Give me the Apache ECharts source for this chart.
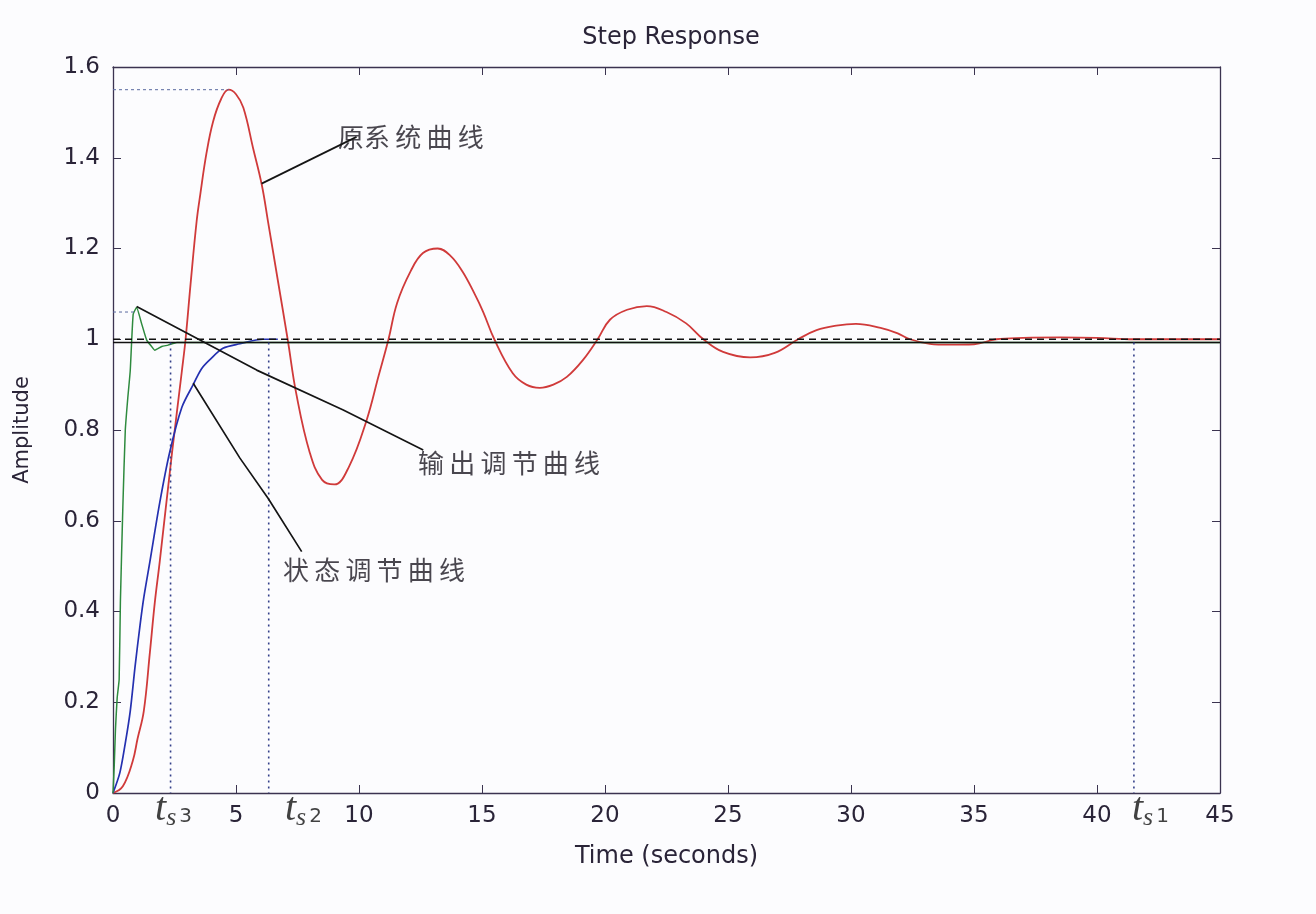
<!DOCTYPE html>
<html>
<head>
  <meta charset="utf-8">
  <script src="https://cdn.jsdelivr.net/npm/echarts@6/dist/echarts.min.js"></script>
  <style>
    html, body { height: 100%; margin: 0; background: #fcfcfe; }
    #main { width: 1316px; height: 914px; }
  </style>
</head>
<body>
  <div id="main"></div>
  <script>
    // 原系统曲线 (red)
    var origCurve = [
      [0, 0], [0.4, 0.015], [0.8, 0.07], [1.0, 0.12], [1.25, 0.18], [1.5, 0.31], [1.7, 0.42], [1.9, 0.51],
      [2.4, 0.75], [2.8, 0.93], [2.95, 1.0], [3.15, 1.12], [3.4, 1.26], [3.55, 1.32], [3.8, 1.41], [4.07, 1.48],
      [4.4, 1.53], [4.7, 1.55], [5.0, 1.54], [5.3, 1.51], [5.7, 1.42], [6.05, 1.34], [6.3, 1.26], [6.7, 1.13],
      [7.1, 1.0], [7.45, 0.88], [8.0, 0.75], [8.5, 0.69], [9.0, 0.68], [9.6, 0.72], [10.3, 0.82], [10.8, 0.92],
      [11.2, 1.0], [11.55, 1.08], [12.1, 1.15], [12.6, 1.19], [13.2, 1.2], [13.7, 1.185], [14.2, 1.15], [14.7, 1.1],
      [15.05, 1.06], [15.5, 1.0], [16.25, 0.925], [16.8, 0.9], [17.35, 0.893], [17.9, 0.9], [18.45, 0.917],
      [19.1, 0.954], [19.7, 1.0], [20.2, 1.043], [20.9, 1.065], [21.7, 1.073], [22.5, 1.06], [23.3, 1.035],
      [24.0, 1.0], [24.8, 0.972], [25.9, 0.96], [26.9, 0.97], [27.85, 1.0], [28.6, 1.02], [29.4, 1.03],
      [30.2, 1.034], [31.2, 1.025], [31.9, 1.013], [32.4, 1.0], [33.2, 0.99], [34.0, 0.988], [35.0, 0.989],
      [35.9, 1.0], [37, 1.003], [38.5, 1.004], [40, 1.003], [41.5, 1.0], [43, 1.0], [45, 1.0]
    ];
    // 状态调节曲线 (blue)
    var stateCurve = [
      [0, 0], [0.28, 0.045], [0.5, 0.11], [0.7, 0.18], [0.9, 0.28], [1.1, 0.37], [1.25, 0.43], [1.5, 0.51],
      [1.9, 0.64], [2.3, 0.75], [2.8, 0.85], [3.26, 0.9], [3.6, 0.935], [3.94, 0.955], [4.47, 0.98],
      [5.16, 0.99], [6.1, 1.0], [6.7, 1.0]
    ];
    // 输出调节曲线 (green)
    var outputCurve = [
      [0, 0], [0.05, 0.06], [0.1, 0.14], [0.17, 0.21], [0.25, 0.25], [0.3, 0.42], [0.4, 0.63], [0.5, 0.8],
      [0.6, 0.87], [0.7, 0.93], [0.82, 1.055], [0.96, 1.07], [1.16, 1.035], [1.37, 0.998], [1.57, 0.984],
      [1.7, 0.976], [1.98, 0.984], [2.24, 0.987], [2.6, 0.993], [45, 0.993]
    ];

    var steadyLevel = 1.0;      // dashed
    var bandLevel = 0.993;      // solid
    var settleTimes = [2.34, 6.33, 41.5];
    var settleNames = ['3', '2', '1'];
    var settleLabelAt = [1.71, 6.99, 41.42];
    var peakMarks = [[4.7, 1.55], [0.96, 1.06]];

    var leaderLines = [
      [[6.04, 1.343], [9.9, 1.446]],
      [[0.96, 1.072], [5.84, 0.932], [9.36, 0.844], [12.61, 0.756]],
      [[3.26, 0.903], [5.16, 0.738], [6.31, 0.649], [7.67, 0.532]]
    ];
    var curveLabels = [
      [9.15, 1.446, '原系\u2009统\u2009曲\u2009线'],
      [12.4, 0.727, '输\u2009出\u2009调\u2009节\u2009曲\u2009线'],
      [6.91, 0.491, '状\u2009态\u2009调\u2009节\u2009曲\u2009线']
    ];

    var axisColor = '#3b3350';
    var textColor = '#2a2438';
    var sans = 'DejaVu Sans';

    var series = [
      { type: 'line', data: origCurve, smooth: 0.4, symbol: 'none', lineStyle: { color: '#d03a3a', width: 1.8 } },
      { type: 'line', data: stateCurve, smooth: 0.3, symbol: 'none', lineStyle: { color: '#2430b0', width: 1.7 } },
      { type: 'line', data: outputCurve, smooth: 0.15, symbol: 'none', lineStyle: { color: '#2e8a3e', width: 1.5 } },
      { type: 'line', data: [[0, steadyLevel], [45, steadyLevel]], symbol: 'none', lineStyle: { color: '#111', width: 1.7, type: [7, 5] } },
      { type: 'line', data: [[0, bandLevel], [45, bandLevel]], symbol: 'none', lineStyle: { color: '#111', width: 1.6 } }
    ];
    settleTimes.forEach(function (t) {
      series.push({ type: 'line', data: [[t, bandLevel], [t, 0]], symbol: 'none',
        lineStyle: { color: '#34408a', width: 1.6, type: [2, 4] } });
    });
    peakMarks.forEach(function (p) {
      series.push({ type: 'line', data: [[0, p[1]], p], symbol: 'none',
        lineStyle: { color: '#5a6aa0', width: 1, type: [3, 3] } });
    });
    leaderLines.forEach(function (l) {
      series.push({ type: 'line', data: l, symbol: 'none', lineStyle: { color: '#151515', width: 1.7 } });
    });
    series.push({
      type: 'scatter', data: curveLabels, symbolSize: 0,
      label: { show: true, position: 'right', distance: 0, formatter: function (p) { return p.data[2]; },
        fontFamily: 'Noto Sans CJK SC', fontSize: 26, color: '#1c1822' }
    });
    series.push({
      type: 'scatter', symbolSize: 0,
      data: settleLabelAt.map(function (t, i) { return [t, 0, settleNames[i]]; }),
      label: {
        show: true, position: [0, -4], align: 'left', verticalAlign: 'top',
        formatter: function (p) { return '{t|t}{s|s}{n|' + p.data[2] + '}'; },
        rich: {
          t: { fontFamily: 'Liberation Serif', fontStyle: 'italic', fontSize: 40, color: '#111', verticalAlign: 'top' },
          s: { fontFamily: 'Liberation Serif', fontStyle: 'italic', fontSize: 26, color: '#111', padding: [16, 0, 0, 0] },
          n: { fontFamily: sans, fontSize: 20, color: '#111', padding: [14, 0, 0, 3] }
        }
      }
    });

    var chart = echarts.init(document.getElementById('main'));
    chart.setOption({
      backgroundColor: '#fcfcfe',
      animation: false,
      title: { text: 'Step Response', left: 666, textAlign: 'center', top: 21,
        textStyle: { fontFamily: sans, fontSize: 24, fontWeight: 'normal', color: textColor } },
      grid: { left: 113, right: 96, top: 67, bottom: 121 },
      xAxis: [{
        type: 'value', min: 0, max: 45, interval: 5, position: 'bottom',
        name: 'Time (seconds)', nameLocation: 'middle', nameGap: 52,
        nameTextStyle: { fontFamily: sans, fontSize: 24, color: textColor },
        axisLine: { onZero: false, lineStyle: { color: axisColor, width: 1.3 } },
        axisTick: { inside: true, length: 8, lineStyle: { color: axisColor } },
        axisLabel: { fontFamily: sans, fontSize: 23, color: textColor, margin: 12 },
        splitLine: { show: false }
      }, {
        type: 'value', min: 0, max: 45, interval: 5, position: 'top',
        axisLine: { onZero: false, lineStyle: { color: axisColor, width: 1.3 } },
        axisTick: { inside: true, length: 8, lineStyle: { color: axisColor } },
        axisLabel: { show: false }, splitLine: { show: false }
      }],
      yAxis: [{
        type: 'value', min: 0, max: 1.6, interval: 0.2, position: 'left',
        name: 'Amplitude', nameLocation: 'middle', nameGap: 80,
        nameTextStyle: { fontFamily: sans, fontSize: 21, color: textColor },
        axisLine: { show: true, onZero: false, lineStyle: { color: axisColor, width: 1.3 } },
        axisTick: { show: true, inside: true, length: 8, lineStyle: { color: axisColor } },
        axisLabel: { fontFamily: sans, fontSize: 23, color: textColor, margin: 13,
          formatter: function (v) { return String(Math.round(v * 10) / 10); } },
        splitLine: { show: false }
      }, {
        type: 'value', min: 0, max: 1.6, interval: 0.2, position: 'right',
        axisLine: { show: true, onZero: false, lineStyle: { color: axisColor, width: 1.3 } },
        axisTick: { show: true, inside: true, length: 8, lineStyle: { color: axisColor } },
        axisLabel: { show: false }, splitLine: { show: false }
      }],
      series: series
    });
    window.addEventListener('resize', chart.resize);
  </script>
</body>
</html>
